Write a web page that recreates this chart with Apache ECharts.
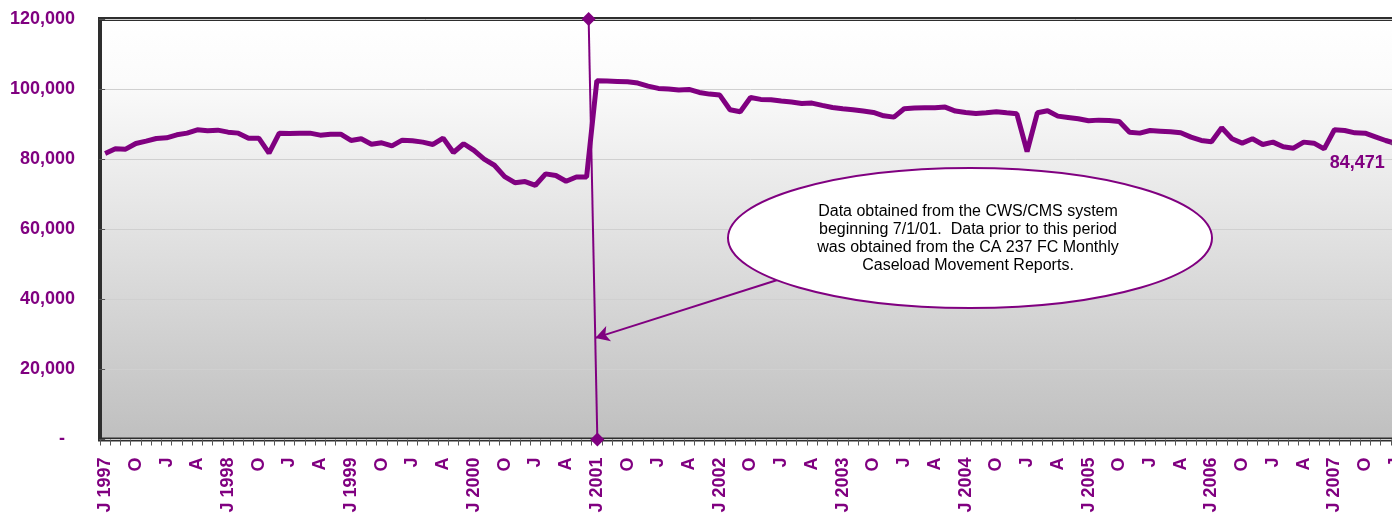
<!DOCTYPE html>
<html>
<head>
<meta charset="utf-8">
<script src="https://cdn.jsdelivr.net/npm/echarts@6/dist/echarts.min.js"></script>
<style>
html,body{margin:0;padding:0;background:#fff;overflow:hidden;width:1392px;height:519px;}
#chart{width:1420px;height:519px;}
</style>
</head>
<body>
<div id="chart"></div>
<script>
// Monthly caseload, July 1997 .. January 2008
var startYear = 1997;
var startMonth = 7;
var monthLetters = ['J','F','M','A','M','J','J','A','S','O','N','D'];
var yTickValues = [0, 20000, 40000, 60000, 80000, 100000, 120000];
var yTickLabels = ['-  ', '20,000', '40,000', '60,000', '80,000', '100,000', '120,000'];

var caseload = [
  81620, 82950, 82860, 84470, 85140, 85900, 86090, 86950, 87430, 88380,
  88090, 88280, 87710, 87430, 86000, 86000, 81710, 87430, 87330, 87430,
  87430, 86850, 87140, 87140, 85330, 85810, 84280, 84670, 83810, 85430,
  85240, 84860, 84190, 86000, 81900, 84400, 82500, 80000, 78260, 75000,
  73280, 73600, 72550, 75800, 75350, 73700, 74900, 74900,
  102380, 102290, 102190, 102090, 101710, 100860, 100190, 100000, 99710, 99900, 99050, 98570,
  98290, 94100, 93530, 97620, 97050, 96950, 96570, 96290, 95900, 96000,
  95340, 94760, 94380, 94100, 93720, 93340, 92380, 92000, 94380, 94570,
  94670, 94670, 94860, 93720, 93340, 93050, 93240, 93520,
  93230, 92950, 82190, 93230, 93800, 92280, 91900, 91520, 90950, 91140, 91040, 90760,
  87710, 87430, 88190, 88000, 87810, 87520, 86280, 85330, 84950, 88950,
  85810, 84570, 85810, 84190, 84860, 83520, 83140, 84860, 84570, 82950,
  88380, 88190, 87520, 87430, 86380, 85330, 84471
];

// system-change divider (category position, value) and the note's arrow
var dividerPoints = [[47.2, 120000], [48.05, 0]];
var arrowFrom = [65.7, 45600];
var arrowTo = [47.85, 29000];
var noteText = 'Data obtained from the CWS/CMS system\nbeginning 7/1/01.  Data prior to this period\nwas obtained from the CA 237 FC Monthly\nCaseload Movement Reports.';

var categories = [];
for (var k = 0; k < caseload.length; k++) {
  var m = (startMonth - 1 + k) % 12;
  var y = startYear + Math.floor((startMonth - 1 + k) / 12);
  categories.push({month: m, year: y});
}
var catNames = categories.map(function (c) { return monthLetters[c.month] + ' ' + c.year; });

var purple = '#800080';
var font = 'Liberation Sans, Arial, sans-serif';
var lineData = caseload.map(function (v, i) {
  if (i === caseload.length - 1) {
    return {
      value: v, symbol: 'diamond', symbolSize: 12,
      itemStyle: {color: '#7a3a7a'},
      label: {
        show: true, position: 'left', offset: [0, 20],
        formatter: function (p) { return p.value.toLocaleString('en-US'); },
        color: purple, fontWeight: 'bold', fontSize: 18, fontFamily: font
      }
    };
  }
  return v;
});

var chart = echarts.init(document.getElementById('chart'), null, {renderer: 'canvas'});
chart.setOption({
  animation: false,
  backgroundColor: '#ffffff',
  grid: {
    left: 100, top: 19, width: 1301, height: 420.5,
    show: true, borderColor: '#2e2e2e', borderWidth: 4,
    backgroundColor: {
      type: 'linear', x: 0, y: 0, x2: 0, y2: 1,
      colorStops: [{offset: 0, color: '#ffffff'}, {offset: 0.15, color: '#fbfbfb'}, {offset: 1, color: '#bfbfbf'}]
    }
  },
  xAxis: [{
    type: 'category',
    data: catNames,
    boundaryGap: true,
    axisLine: {show: false},
    axisTick: {show: true, interval: 0, length: 6, lineStyle: {color: '#555', width: 1}},
    axisLabel: {
      interval: 2, rotate: 90, margin: 18,
      color: purple, fontWeight: 'bold', fontSize: 18, fontFamily: font,
      formatter: function (val, idx) {
        var c = categories[idx];
        if (c.month === 6) return 'J ' + c.year;
        return monthLetters[c.month];
      }
    },
    splitLine: {show: false}
  }, {
    type: 'value', min: -0.5, max: caseload.length - 0.5,
    show: false
  }],
  yAxis: [{
    type: 'value', min: 0, max: 120000, interval: 20000,
    axisLine: {show: false},
    axisTick: {show: true, length: 6, lineStyle: {color: '#555'}},
    axisLabel: {
      margin: 25, color: purple, fontWeight: 'bold', fontSize: 18, fontFamily: font,
      formatter: function (v) { return yTickLabels[yTickValues.indexOf(v)]; }
    },
    splitLine: {show: true, lineStyle: {color: '#d0d0d0', width: 1}}
  }],
  series: [{
    type: 'line',
    xAxisIndex: 0,
    data: lineData,
    symbol: 'none',
    showSymbol: true,
    showAllSymbol: true,
    lineStyle: {color: purple, width: 5},
    itemStyle: {color: purple},
    clip: false,
    z: 3
  }, {
    type: 'line',
    xAxisIndex: 1,
    data: dividerPoints,
    symbol: 'diamond',
    symbolSize: 14,
    lineStyle: {color: purple, width: 2},
    itemStyle: {color: purple},
    clip: false,
    z: 4,
    markLine: {
      silent: true,
      symbol: ['none', 'arrow'],
      symbolSize: [12, 14],
      label: {show: false},
      lineStyle: {color: purple, width: 2, type: 'solid'},
      data: [[{coord: arrowFrom}, {coord: arrowTo}]]
    }
  }],
  graphic: [{
    type: 'ellipse',
    z: 100,
    shape: {cx: 970, cy: 238, rx: 242, ry: 70},
    style: {fill: '#ffffff', stroke: purple, lineWidth: 2}
  }, {
    type: 'text',
    z: 101,
    x: 968, y: 239,
    style: {
      text: noteText, fill: '#000', font: '16px Liberation Sans, Arial, sans-serif',
      align: 'center', verticalAlign: 'middle', lineHeight: 18
    }
  }]
});
</script>
</body>
</html>
